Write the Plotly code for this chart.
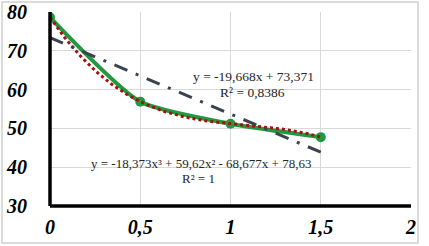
import numpy as np
import plotly.graph_objects as go

# Data
x_vals = [0, 0.5, 1, 1.5]
y_vals = [78.63, 56.9, 51.2, 47.75]

# Trendline coefficients (as printed on the chart)
poly_coef = [-18.373, 59.62, -68.677, 78.63]   # cubic, highest power first
lin_coef = [-19.668, 73.371]

x_ticks = [0, 0.5, 1, 1.5, 2]
x_ticktext = ["0", "0,5", "1", "1,5", "2"]
y_ticks = [30, 40, 50, 60, 70, 80]
y_ticktext = ["30", "40", "50", "60", "70", "80"]

eq_lin = "y = -19,668x + 73,371"
r2_lin = "R² = 0,8386"
eq_poly = "y = -18,373x³ + 59,62x² - 68,677x + 78,63"
r2_poly = "R² = 1"

xt = np.linspace(min(x_vals), max(x_vals), 120)
poly_y = np.polyval(poly_coef, xt)
lin_y = np.polyval(lin_coef, xt)

fig = go.Figure()
fig.add_trace(go.Scatter(
    x=x_vals, y=y_vals, mode="lines+markers",
    line=dict(color="#1f9a3f", width=4, shape="spline", smoothing=0.6),
    marker=dict(color="#1f9a3f", size=10),
    showlegend=False, hoverinfo="skip"))
fig.add_trace(go.Scatter(
    x=xt, y=poly_y, mode="lines",
    line=dict(color="#a50f0f", width=3, dash="dot"),
    showlegend=False, hoverinfo="skip"))
fig.add_trace(go.Scatter(
    x=[xt[0], xt[-1]], y=[lin_y[0], lin_y[-1]], mode="lines",
    line=dict(color="#3c4350", width=3, dash="14px,9px,3px,9px"),
    showlegend=False, hoverinfo="skip"))

tickfont = dict(family="Liberation Serif", size=20, color="black",
                weight="bold", style="italic")

def bi(t):
    return "<b><i>" + t + "</i></b>"

fig.update_xaxes(range=[0, 2], tickvals=x_ticks, ticktext=[bi(t) for t in x_ticktext],
                 showgrid=True, gridcolor="#d9d9d9", gridwidth=1,
                 showline=False, zeroline=False, ticks="", automargin=False,
                 tickfont=tickfont, ticklabelstandoff=7)
fig.update_yaxes(range=[30, 80], tickvals=y_ticks, ticktext=[bi(t) for t in y_ticktext],
                 showgrid=True, gridcolor="#d9d9d9", gridwidth=1,
                 showline=False, zeroline=False, ticks="", automargin=False,
                 tickfont=tickfont, ticklabelstandoff=22)

# axis lines (thick black) drawn as shapes at the axis range edges
fig.add_shape(type="line", xref="paper", yref="paper", x0=0, x1=1, y0=0, y1=0,
              line=dict(color="black", width=3.5))
fig.add_shape(type="line", xref="paper", yref="paper", x0=0, x1=0, y0=0, y1=1,
              line=dict(color="black", width=3.5))

# outer chart border
L, R, T, B = 50, 18, 12, 40
W, H = 429, 246
pw, ph = W - L - R, H - T - B
fig.add_shape(type="rect", xref="paper", yref="paper", layer="below",
              x0=(2 - L) / pw, x1=(418 - L) / pw,
              y0=-(243 - (H - B)) / ph, y1=((H - B) - 2) / ph,
              line=dict(color="#d0d0d0", width=1.5))

annfont = dict(family="Liberation Serif", size=13.5, color="#262626")
annfont2 = dict(family="Liberation Serif", size=13, color="#262626")
fig.add_annotation(x=1.13, y=63.3, text=eq_lin, showarrow=False, font=annfont)
fig.add_annotation(x=1.12, y=59.3, text=r2_lin, showarrow=False, font=annfont)
fig.add_annotation(x=0.835, y=41.0, text=eq_poly, showarrow=False, font=annfont2)
fig.add_annotation(x=0.825, y=37.1, text=r2_poly, showarrow=False, font=annfont2)

fig.update_layout(width=W, height=H,
                  margin=dict(l=L, r=R, t=T, b=B),
                  paper_bgcolor="white", plot_bgcolor="white")

fig.write_html("out.html", config={"displayModeBar": False},
               post_script="document.body.style.margin='0';document.body.style.overflow='hidden';")
